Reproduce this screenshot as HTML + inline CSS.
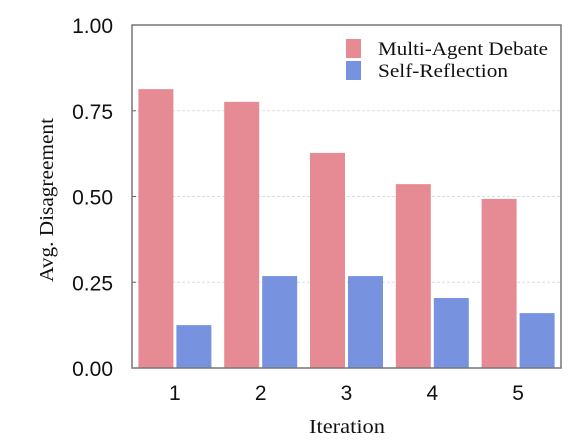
<!DOCTYPE html>
<html><head><meta charset="utf-8"><style>
html,body{margin:0;padding:0;background:#fff;}
svg{display:block;}
</style></head><body>
<svg id="chart" width="581" height="445" xmlns="http://www.w3.org/2000/svg">
<g id="grid"></g><g id="bars"></g><g id="axes"></g>
<g>
<rect x="346" y="39" width="15" height="19" fill="#e68a94"/>
<text x="378" y="55" font-family="Liberation Serif, serif" font-size="19" textLength="170" lengthAdjust="spacingAndGlyphs" fill="#111">Multi-Agent Debate</text>
<rect x="346" y="61" width="15" height="19" fill="#7793e0"/>
<text x="378" y="77" font-family="Liberation Serif, serif" font-size="19" textLength="130" lengthAdjust="spacingAndGlyphs" fill="#111">Self-Reflection</text>
</g>
<text x="347" y="433" text-anchor="middle" font-family="Liberation Serif, serif" font-size="20" textLength="76" lengthAdjust="spacingAndGlyphs" fill="#111">Iteration</text>
<text transform="translate(53,200) rotate(-90)" text-anchor="middle" font-family="Liberation Serif, serif" font-size="20" textLength="164" lengthAdjust="spacingAndGlyphs" fill="#111">Avg. Disagreement</text>
</svg>
<script>
const categories = ["1","2","3","4","5"];
const debateValues = [0.813, 0.776, 0.627, 0.536, 0.493];
const reflectionValues = [0.125, 0.268, 0.268, 0.204, 0.160];
const yTicks = [0, 0.25, 0.5, 0.75, 1.0];
const yTickLabels = ["0.00","0.25","0.50","0.75","1.00"];

const L=132,R=561,T=25,B=368;
const ns="http://www.w3.org/2000/svg";
function y(v){return B-(B-T)*v;}
function xc(i){return L+(R-L)/categories.length*(i+0.5);}
function mk(tag,attrs,parent,text){const e=document.createElementNS(ns,tag);for(const k in attrs)e.setAttribute(k,attrs[k]);if(text!==undefined)e.textContent=text;parent.appendChild(e);return e;}
const grid=document.getElementById('grid'),bars=document.getElementById('bars'),axes=document.getElementById('axes');
yTicks.forEach((t,i)=>{
  if(t>0&&t<1){const g=mk('line',{x1:L,x2:R,y1:y(t),y2:y(t),stroke:'#ddd','stroke-dasharray':'3,2','stroke-width':1},grid);
  
  }
  const tk=mk('line',{x1:L,x2:L+4,y1:y(t),y2:y(t),stroke:'#666','stroke-width':1},axes);
  
  
  const lb=mk('text',{x:L-19,y:y(t)+8,'text-anchor':'end','font-family':'Liberation Sans, sans-serif','font-size':21,fill:'#111'},axes,yTickLabels[i]);
  
  
});
categories.forEach((c,i)=>{
  const cx=xc(i);
  const b1=mk('rect',{x:cx-36.5,y:y(debateValues[i]),width:35,height:B-y(debateValues[i]),fill:'#e68a94'},bars);
  
  
  const b2=mk('rect',{x:cx+1.5,y:y(reflectionValues[i]),width:35,height:B-y(reflectionValues[i]),fill:'#7793e0'},bars);
  
  
  const lb=mk('text',{x:cx,y:B+32,'text-anchor':'middle','font-family':'Liberation Sans, sans-serif','font-size':21,fill:'#111'},axes,c);
  
  
});
const fr=mk('rect',{x:L,y:T,width:R-L,height:B-T,fill:'none',stroke:'#777','stroke-width':1.5},axes);


</script>
</body></html>
